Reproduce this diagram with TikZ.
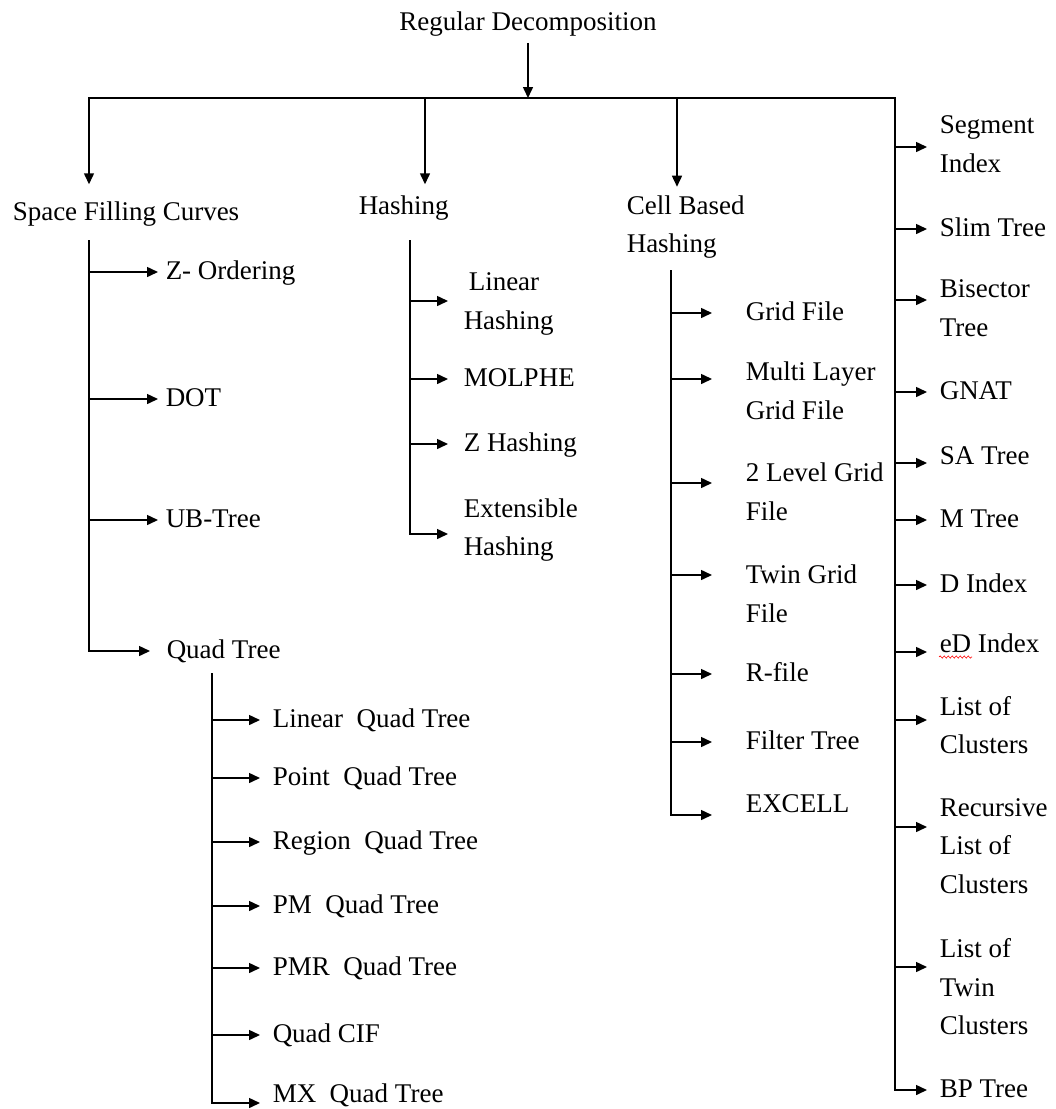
\documentclass[tikz,border=0pt]{standalone}
\usepackage{fontspec}
\setmainfont{Liberation Serif}
\usetikzlibrary{arrows.meta,decorations.pathmorphing}

\tikzset{
  arr/.style={-{Triangle[length=11pt,width=10pt]}},
  leaf/.style={anchor=west, inner sep=0pt, text height=18pt, text depth=4pt},
  multi/.style={anchor=west, inner sep=0pt, align=left},
  spell/.style={red, line width=0.6pt, decorate, decoration={snake, amplitude=1.1pt, segment length=4pt}}
}

\begin{document}
\begin{tikzpicture}[x=1pt, y=-1pt, line width=1.5pt, font=\fontsize{27}{38.5}\selectfont]
    \useasboundingbox (0,0) rectangle (1056,1109);

    % Root and bus
    \node[leaf, anchor=center] (rd) at (528,23) {Regular Decomposition};
    \coordinate (hub) at (528,98);
    \draw[arr, shorten <=8pt] (rd.south) -- (hub);
    \coordinate (sfcD) at (89,98);
    \coordinate (hsD) at (425,98);
    \coordinate (cbD) at (677,98);
    \coordinate (mtD) at (895,98);
    \draw[line cap=rect] (sfcD) -- (mtD);

    % First level
    \node[leaf] (sfc) at (12,213) {Space Filling Curves};
    \node[leaf] (hs) at (358,207) {Hashing};
    \node[multi] (cbh) at (626,227) {Cell Based\\Hashing};
    \draw[arr, shorten >=17pt] (sfcD) -- (sfcD |- sfc.north);
    \draw[arr, shorten >=11pt] (hsD) -- (hsD |- hs.north);
    \draw[arr, shorten >=8pt] (cbD) -- (cbD |- cbh.north);

    % Space Filling Curves
    \coordinate (sfcT) at (89,240);
    \node[leaf] (zo) at (165,272) {Z- Ordering};
    \node[leaf] (dot) at (165,399) {DOT};
    \node[leaf] (ub) at (165,520) {UB-Tree};
    \node[leaf] (qt) at (166,651) {Quad Tree};
    \draw[arr, shorten >=7pt] (sfcT) |- (zo.west);
    \draw[arr, shorten >=7pt] (sfcT) |- (dot.west);
    \draw[arr, shorten >=7pt] (sfcT) |- (ub.west);
    \draw[arr, shorten >=16pt] (sfcT) |- (qt.west);

    % Quad Tree
    \coordinate (qtT) at (212,673);
    \node[leaf] (lqt) at (272,720) {Linear~~Quad Tree};
    \node[leaf] (pqt) at (272,778) {Point~~Quad Tree};
    \node[leaf] (rqt) at (272,842) {Region~~Quad Tree};
    \node[leaf] (pmqt) at (272,906) {PM~~Quad Tree};
    \node[leaf] (pmrqt) at (272,968) {PMR~~Quad Tree};
    \node[leaf] (qcif) at (272,1035) {Quad CIF};
    \node[leaf] (mxqt) at (272,1095) {MX~~Quad Tree};
    \draw[arr, shorten >=12pt] (qtT) |- (lqt.west);
    \draw[arr, shorten >=12pt] (qtT) |- (pqt.west);
    \draw[arr, shorten >=12pt] (qtT) |- (rqt.west);
    \draw[arr, shorten >=12pt] (qtT) |- (pmqt.west);
    \draw[arr, shorten >=12pt] (qtT) |- (pmrqt.west);
    \draw[arr, shorten >=12pt] (qtT) |- (qcif.west);
    \draw[arr, shorten >=12pt] (qtT) |- ([yshift=-8pt]mxqt.west);

    % Hashing
    \coordinate (hsT) at (410,240);
    \node[multi] (lh) at (463,304) {\hspace*{5pt}Linear\\Hashing};
    \node[leaf] (mol) at (463,379) {MOLPHE};
    \node[leaf] (zh) at (463,444) {Z Hashing};
    \node[multi] (eh) at (463,530) {Extensible\\Hashing};
    \draw[arr, shorten >=15pt] (hsT) |- ([yshift=3pt]lh.west);
    \draw[arr, shorten >=15pt] (hsT) |- (mol.west);
    \draw[arr, shorten >=15pt] (hsT) |- (zh.west);
    \draw[arr, shorten >=15pt] (hsT) |- ([yshift=-4pt]eh.west);

    % Cell Based Hashing
    \coordinate (cbhT) at (671,270);
    \node[leaf] (gf) at (745,313) {Grid File};
    \node[multi] (mlgf) at (745,391) {Multi Layer\\Grid File};
    \node[multi] (tlgf) at (745,492) {2 Level Grid\\File};
    \node[multi] (tgf) at (745,594) {Twin Grid\\File};
    \node[leaf] (rf) at (745,674) {R-file};
    \node[leaf] (ft) at (745,742) {Filter Tree};
    \node[leaf] (exc) at (745,805) {EXCELL};
    \draw[arr, shorten >=33pt] (cbhT) |- (gf.west);
    \draw[arr, shorten >=33pt] (cbhT) |- ([yshift=12pt]mlgf.west);
    \draw[arr, shorten >=33pt] (cbhT) |- ([yshift=9pt]tlgf.west);
    \draw[arr, shorten >=33pt] (cbhT) |- ([yshift=19pt]tgf.west);
    \draw[arr, shorten >=33pt] (cbhT) |- (rf.west);
    \draw[arr, shorten >=33pt] (cbhT) |- (ft.west);
    \draw[arr, shorten >=33pt] (cbhT) |- ([yshift=-10pt]exc.west);

    % Right branch
    \node[multi] (si) at (939,144) {Segment\\Index};
    \node[leaf] (slim) at (939,229) {Slim Tree};
    \node[multi] (bt) at (939,308) {Bisector\\Tree};
    \node[leaf] (gnat) at (939,392) {GNAT};
    \node[leaf] (sat) at (939,457) {SA Tree};
    \node[leaf] (mt) at (939,520) {M Tree};
    \node[leaf] (di) at (939,585) {D Index};
    \node[leaf] (edi) at (939,645) {eD Index};
    \node[multi] (loc) at (939,725) {List of\\Clusters};
    \node[multi] (rloc) at (939,846) {Recursive\\List of\\Clusters};
    \node[multi] (lotc) at (939,987) {List of\\Twin\\Clusters};
    \node[leaf] (bp) at (939,1090) {BP Tree};
    \draw[arr, shorten >=12pt] (mtD) |- ([yshift=-3pt]si.west);
    \draw[arr, shorten >=12pt] (mtD) |- (slim.west);
    \draw[arr, shorten >=12pt] (mtD) |- ([yshift=8pt]bt.west);
    \draw[arr, shorten >=12pt] (mtD) |- (gnat.west);
    \draw[arr, shorten >=12pt] (mtD) |- ([yshift=-6pt]sat.west);
    \draw[arr, shorten >=12pt] (mtD) |- (mt.west);
    \draw[arr, shorten >=12pt] (mtD) |- (di.west);
    \draw[arr, shorten >=12pt] (mtD) |- ([yshift=-7pt]edi.west);
    \draw[arr, shorten >=12pt] (mtD) |- ([yshift=5pt]loc.west);
    \draw[arr, shorten >=12pt] (mtD) |- ([yshift=19pt]rloc.west);
    \draw[arr, shorten >=12pt] (mtD) |- ([yshift=20pt]lotc.west);
    \draw[arr, shorten >=12pt] (mtD) |- (bp.west);

    % Spelling mark under eD
    \draw[spell] ([yshift=-5pt]edi.base west) -- ++(33,0);
\end{tikzpicture}
\end{document}
